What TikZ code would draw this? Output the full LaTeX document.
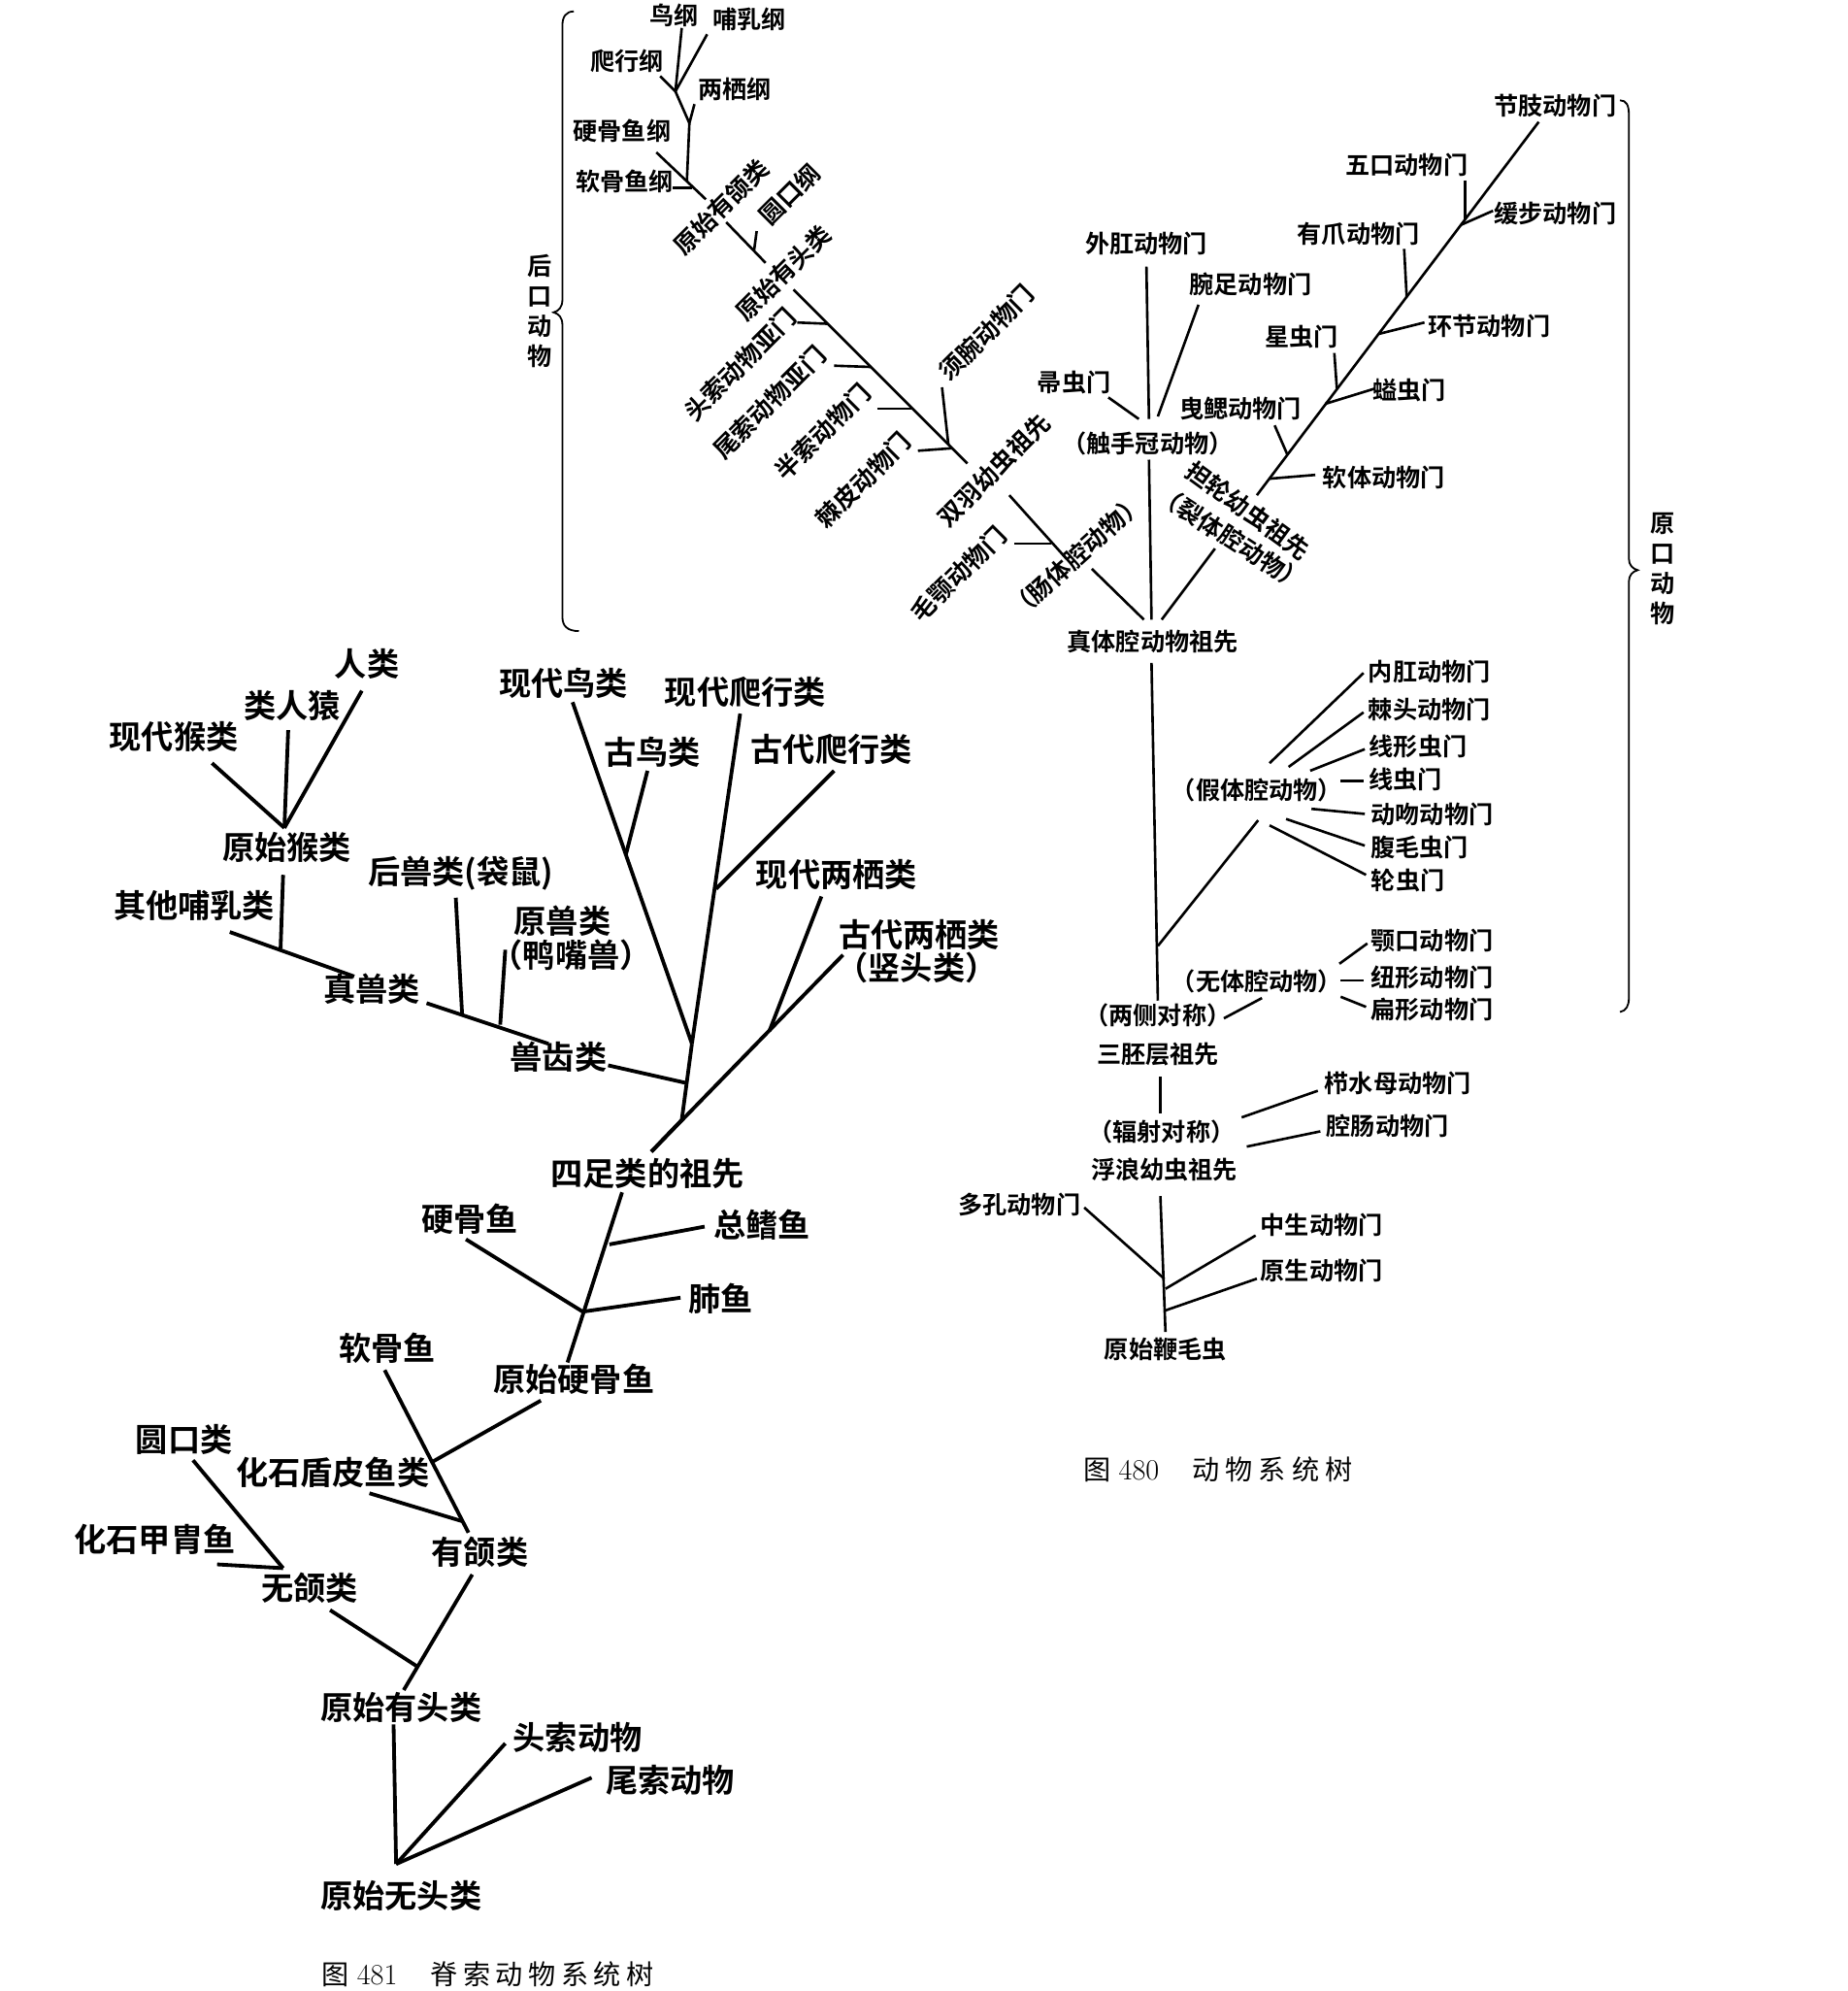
\documentclass[tikz,border=0pt]{standalone}
\usepackage{fontspec}
\newfontfamily\cjkb{Noto Sans CJK SC Bold}
\newfontfamily\cjk{Noto Sans CJK SC}
\tikzset{every picture/.style={line width=0.5pt}}
\tikzset{
  lbl/.style={font=\cjkb\fontsize{12.5}{15.4}\selectfont, inner sep=0.75pt},
  big/.style={font=\cjkb\fontsize{16.5}{19}\selectfont, inner sep=0.75pt},
  figcap/.style={font=\cjk\fontsize{14}{15}\selectfont, inner sep=0.75pt, anchor=west},
  twig/.style={line width=1.3pt},
  limb/.style={line width=1.9pt},
  bracket/.style={line width=0.9pt},
}
\newcommand{\capnum}[1]{{\rmfamily\fontsize{15}{15}\selectfont #1}}
\begin{document}
\begin{tikzpicture}[x=0.65pt,y=0.65pt,yscale=-1,xscale=1]
\useasboundingbox (0,0) rectangle (1455,1568);

%% ---------- upper left: deuterostomes ----------
% Text Node
\node[lbl] (niaogang) at (531,12) {鸟纲};
\node[lbl] (burugang) at (590,15) {哺乳纲};
\node[lbl] (paxinggang) at (494,48) {爬行纲};
\node[lbl] (liangqigang) at (579,70) {两栖纲};
\node[lbl] (yinggugang) at (490,103) {硬骨鱼纲};
\node[lbl] (ruangugang) at (492,143) {软骨鱼纲};
\node[lbl,rotate=45] (youhelei) at (568,163) {原始有颌类};
\node[lbl,rotate=45] (yuankougang) at (622,153) {圆口纲};
\node[lbl,rotate=45] (youtoulei) at (617,215) {原始有头类};
\node[lbl,rotate=45] (tousuo) at (583,287) {头索动物亚门};
\node[lbl,rotate=45] (weisuo) at (606,317) {尾索动物亚门};
\node[lbl,rotate=45] (bansuo) at (648,340) {半索动物门};
\node[lbl,rotate=45] (jipi) at (680,378) {棘皮动物门};
\node[lbl,rotate=45] (xuwan) at (777,262) {须腕动物门};
\node[lbl,rotate=45] (shuangyu) at (783,370) {双羽幼虫祖先};
\node[lbl,rotate=45] (maoe) at (755,452) {毛颚动物门};
\node[lbl,rotate=42] (changtiqiang) at (848,438) {（肠体腔动物）};
\node[lbl,align=center] (houkou) at (425,245) {后\\口\\动\\物};

\coordinate (a1) at (537,22);  \coordinate (a2) at (557,27);
\coordinate (a3) at (520,60);  \coordinate (ja) at (532,72);
\coordinate (a4) at (547,82);  \coordinate (jb) at (543,97);
\coordinate (jc) at (541,143); \coordinate (a5) at (517,120);
\coordinate (a6) at (556,157); \coordinate (a7) at (530,148);
\coordinate (a8) at (545,148);
\coordinate (b1) at (572,175); \coordinate (b2) at (603,207);
\coordinate (b3) at (596,182); \coordinate (b4) at (594,197);
\coordinate (c1) at (625,228); \coordinate (c2) at (762,365);
\coordinate (d1) at (628,254); \coordinate (d2) at (652,255);
\coordinate (d3) at (657,288); \coordinate (d4) at (686,289);
\coordinate (d5) at (691,322); \coordinate (d6) at (719,322);
\coordinate (d7) at (723,355); \coordinate (d8) at (750,353);
\coordinate (d9) at (742,305); \coordinate (d10) at (747,350);
\coordinate (e1) at (795,390); \coordinate (e2) at (840,440);
\coordinate (e3) at (799,428); \coordinate (e4) at (828,428);
\coordinate (e5) at (860,448);

%Straight Lines
\draw[twig] (a1) -- (ja);
\draw[twig] (a2) -- (ja);
\draw[twig] (a3) -- (ja) -- (jb);
\draw[twig] (a4) -- (jb);
\draw[twig] (jb) -- (jc);
\draw[twig] (a5) -- (a6);
\draw[twig] (a7) -- (a8);
\draw[twig] (b1) -- (b2);
\draw[twig] (b3) -- (b4);
\draw[twig] (c1) -- (c2);
\draw[twig] (d1) -- (d2);
\draw[twig] (d3) -- (d4);
\draw[twig] (d5) -- (d6);
\draw[twig] (d7) -- (d8);
\draw[twig] (d9) -- (d10);
\draw[twig] (e1) -- (e2);
\draw[twig] (e3) -- (e4);

%Shape: Brace
\draw[bracket] (452,9) .. controls (446,9) and (443,13) .. (443,20) -- (443,236) .. controls (443,242) and (440,245) .. (436,246) .. controls (440,247) and (443,250) .. (443,256) -- (443,486) .. controls (443,493) and (447,497) .. (456,497);

%% ---------- upper right: protostomes ----------
% Text Node
\node[lbl] (zhentiqiang) at (908,505) {真体腔动物祖先};
\node[lbl] (chushouguan) at (904,349) {（触手冠动物）};
\node[lbl] (waigang) at (903,192) {外肛动物门};
\node[lbl] (wanzu) at (985,224) {腕足动物门};
\node[lbl] (zhouchong) at (846,301) {帚虫门};
\node[lbl] (jiezhi) at (1225,83) {节肢动物门};
\node[lbl] (wukou) at (1108,130) {五口动物门};
\node[lbl] (huanbu) at (1225,168) {缓步动物门};
\node[lbl] (youzhua) at (1070,184) {有爪动物门};
\node[lbl] (huanjie) at (1173,257) {环节动物门};
\node[lbl] (xingchong) at (1025,265) {星虫门};
\node[lbl] (yichong) at (1110,307) {螠虫门};
\node[lbl] (yesai) at (977,322) {曳鳃动物门};
\node[lbl] (ruanti) at (1090,376) {软体动物门};
\node[lbl,rotate=-36] (danlun) at (983,402) {担轮幼虫祖先};
\node[lbl,rotate=-33] (lietiqiang) at (970,424) {（裂体腔动物）};
\node[lbl,align=center] (yuankou) at (1310,448) {原\\口\\动\\物};

\coordinate (f1) at (903,210);  \coordinate (f2) at (905,330);
\coordinate (f3) at (944,240);  \coordinate (f4) at (912,328);
\coordinate (f5) at (873,313);  \coordinate (f6) at (897,330);
\coordinate (g1) at (905,362);  \coordinate (g2) at (957,432);
\coordinate (z1) at (901,488);  \coordinate (z2) at (907,488);
\coordinate (z3) at (915,488);
\coordinate (p0) at (1212,96);  \coordinate (p9) at (990,390);
\coordinate (q1) at (1176,166); \coordinate (r1) at (1151,177);
\coordinate (q2) at (1154,142); \coordinate (r2) at (1154,173);
\coordinate (q3) at (1106,196); \coordinate (r3) at (1108,234);
\coordinate (q4) at (1122,254); \coordinate (r4) at (1086,263);
\coordinate (q5) at (1051,278); \coordinate (r5) at (1053,306);
\coordinate (q6) at (1083,306); \coordinate (r6) at (1044,318);
\coordinate (q7) at (1004,335); \coordinate (r7) at (1014,358);
\coordinate (q8) at (1036,374); \coordinate (r8) at (1000,377);

%Straight Lines
\draw[twig] (f1) -- (f2);
\draw[twig] (f3) -- (f4);
\draw[twig] (f5) -- (f6);
\draw[twig] (g1) -- (z2);
\draw[twig] (g2) -- (z3);
\draw[twig] (e5) -- (z1);
\draw[twig] (p0) -- (p9);
\draw[twig] (q1) -- (r1);
\draw[twig] (q2) -- (r2);
\draw[twig] (q3) -- (r3);
\draw[twig] (q4) -- (r4);
\draw[twig] (q5) -- (r5);
\draw[twig] (q6) -- (r6);
\draw[twig] (q7) -- (r7);
\draw[twig] (q8) -- (r8);

%Shape: Brace
\draw[bracket] (1276,79) .. controls (1281,79) and (1283,83) .. (1283,90) -- (1283,440) .. controls (1283,445) and (1286,448) .. (1290,449) .. controls (1286,450) and (1283,453) .. (1283,458) -- (1283,786) .. controls (1283,792) and (1281,796) .. (1276,797);

%% ---------- lower right ----------
% Text Node
\node[lbl] (jiatiqiang) at (990,622) {（假体腔动物）};
\node[lbl] (neigang) at (1126,529) {内肛动物门};
\node[lbl] (jitou) at (1126,559) {棘头动物门};
\node[lbl] (xianxing) at (1117,588) {线形虫门};
\node[lbl] (xianchong) at (1107,614) {线虫门};
\node[lbl] (dongwen) at (1128,641) {动吻动物门};
\node[lbl] (fumao) at (1118,667) {腹毛虫门};
\node[lbl] (lunchong) at (1109,693) {轮虫门};
\node[lbl] (wutiqiang) at (990,773) {（无体腔动物）};
\node[lbl] (ekou) at (1128,741) {颚口动物门};
\node[lbl] (niuxing) at (1128,770) {纽形动物门};
\node[lbl] (bianxing) at (1128,795) {扁形动物门};
\node[lbl] (liangce) at (912,800) {（两侧对称）};
\node[lbl] (sanpeiceng) at (912,830) {三胚层祖先};
\node[lbl] (zhishuimu) at (1101,853) {栉水母动物门};
\node[lbl] (qiangchang) at (1093,887) {腔肠动物门};
\node[lbl] (fushe) at (915,891) {（辐射对称）};
\node[lbl] (fulang) at (917,921) {浮浪幼虫祖先};
\node[lbl] (duokong) at (803,949) {多孔动物门};
\node[lbl] (zhongsheng) at (1041,965) {中生动物门};
\node[lbl] (yuansheng) at (1041,1001) {原生动物门};
\node[lbl] (bianmao) at (918,1063) {原始鞭毛虫};
\node[figcap] (cap480) at (852,1157) {图\hspace{4pt}\capnum{480}\hspace{17pt}动\hspace{3pt}物\hspace{3pt}系\hspace{3pt}统\hspace{3pt}树};

\coordinate (h0) at (907,522);  \coordinate (h1) at (912,788);
\coordinate (h2) at (912,745);  \coordinate (h3) at (991,646);
\coordinate (s1) at (1000,601); \coordinate (t1) at (1074,530);
\coordinate (s2) at (1015,604); \coordinate (t2) at (1074,561);
\coordinate (s3) at (1032,607); \coordinate (t3) at (1075,590);
\coordinate (s4) at (1056,615); \coordinate (t4) at (1074,615);
\coordinate (s5) at (1033,637); \coordinate (t5) at (1075,641);
\coordinate (s6) at (1013,645); \coordinate (t6) at (1075,666);
\coordinate (s7) at (1000,650); \coordinate (t7) at (1076,689);
\coordinate (u1) at (1055,759); \coordinate (v1) at (1077,743);
\coordinate (u2) at (1056,772); \coordinate (v2) at (1074,772);
\coordinate (u3) at (1056,785); \coordinate (v3) at (1076,793);
\coordinate (w1) at (964,802);  \coordinate (w2) at (994,786);
\coordinate (i1) at (914,848);  \coordinate (i2) at (914,877);
\coordinate (i3) at (978,880);  \coordinate (i4) at (1038,859);
\coordinate (i5) at (982,903);  \coordinate (i6) at (1040,891);
\coordinate (k0) at (914,942);  \coordinate (k1) at (918,1049);
\coordinate (k2) at (854,951);  \coordinate (k3) at (917,1007);
\coordinate (k4) at (989,973);  \coordinate (k5) at (918,1015);
\coordinate (k6) at (990,1007); \coordinate (k7) at (918,1032);

%Straight Lines
\draw[twig] (h0) -- (h1);
\draw[twig] (h2) -- (h3);
\foreach \n in {1,...,7} \draw[twig] (s\n) -- (t\n);
\foreach \n in {1,2,3} \draw[twig] (u\n) -- (v\n);
\draw[twig] (w1) -- (w2);
\draw[twig] (i1) -- (i2);
\draw[twig] (i3) -- (i4);
\draw[twig] (i5) -- (i6);
\draw[twig] (k0) -- (k1);
\draw[twig] (k2) -- (k3);
\draw[twig] (k4) -- (k5);
\draw[twig] (k6) -- (k7);

%% ---------- lower left: vertebrates ----------
% Text Node
\node[big] (renlei) at (289,523) {人类};
\node[big] (leirenyuan) at (230,556) {类人猿};
\node[big] (xiandaihou) at (137,580) {现代猴类};
\node[big] (yuanshihou) at (226,667) {原始猴类};
\node[big] (qitaburu) at (153,713) {其他哺乳类};
\node[big] (houshou) at (363,688) {后兽类(袋鼠)};
\node[big] (yuanshou) at (443,725) {原兽类};
\node[big] (yazuishou) at (450,752) {（鸭嘴兽）};
\node[big] (zhenshou) at (293,779) {真兽类};
\node[big] (shouchi) at (440,832) {兽齿类};
\node[big] (xiandainiao) at (444,538) {现代鸟类};
\node[big] (xiandaipaxing) at (587,545) {现代爬行类};
\node[big] (guniao) at (514,592) {古鸟类};
\node[big] (gudaipaxing) at (655,590) {古代爬行类};
\node[big] (xiandailiangqi) at (659,689) {现代两栖类};
\node[big] (gudailiangqi) at (724,736) {古代两栖类};
\node[big] (shutou) at (722,762) {（竖头类）};
\node[big] (sizu) at (510,924) {四足类的祖先};
\node[big] (yinggu) at (370,960) {硬骨鱼};
\node[big] (zongqi) at (600,965) {总鳍鱼};
\node[big] (feiyu) at (568,1023) {肺鱼};
\node[big] (yuanshiyinggu) at (452,1086) {原始硬骨鱼};
\node[big] (ruangu) at (305,1062) {软骨鱼};
\node[big] (yuankoulei) at (145,1134) {圆口类};
\node[big] (dunpi) at (262,1160) {化石盾皮鱼类};
\node[big] (jiazhou) at (122,1212) {化石甲胄鱼};
\node[big] (youhe) at (378,1222) {有颌类};
\node[big] (wuhe) at (244,1251) {无颌类};
\node[big] (youtou) at (316,1345) {原始有头类};
\node[big] (tousuodw) at (455,1368) {头索动物};
\node[big] (weisuodw) at (528,1402) {尾索动物};
\node[big] (wutou) at (316,1493) {原始无头类};
\node[figcap] (cap481) at (252,1555) {图\hspace{4pt}\capnum{481}\hspace{17pt}脊\hspace{2.7pt}索\hspace{2.7pt}动\hspace{2.7pt}物\hspace{2.7pt}系\hspace{2.7pt}统\hspace{2.7pt}树};

\coordinate (m1) at (167,601);  \coordinate (m2) at (227,575);
\coordinate (m3) at (285,544);  \coordinate (mj) at (224,652);
\coordinate (m4) at (223,689);  \coordinate (m5) at (221,747);
\coordinate (m6) at (181,734);  \coordinate (m7) at (279,769);
\coordinate (m8) at (336,790);  \coordinate (m9) at (432,822);
\coordinate (n1) at (359,707);  \coordinate (n2) at (364,799);
\coordinate (n3) at (398,748);  \coordinate (n4) at (394,807);
\coordinate (n5) at (479,839);  \coordinate (n6) at (541,853);
\coordinate (o0) at (513,907);  \coordinate (o1) at (537,882);
\coordinate (o2) at (545,822);
\coordinate (o3) at (451,553);  \coordinate (o4) at (510,607);
\coordinate (o5) at (493,673);  \coordinate (o6) at (583,562);
\coordinate (o7) at (657,607);  \coordinate (o8) at (564,700);
\coordinate (o9) at (664,752);  \coordinate (o10) at (647,706);
\coordinate (o11) at (606,812);
\coordinate (x0) at (490,939);  \coordinate (x1) at (480,980);
\coordinate (x2) at (459,1033); \coordinate (x3) at (447,1073);
\coordinate (x4) at (555,966);  \coordinate (x5) at (536,1022);
\coordinate (x6) at (367,976);
\coordinate (y1) at (426,1103); \coordinate (y2) at (341,1151);
\coordinate (y3) at (303,1079); \coordinate (y4) at (369,1207);
\coordinate (y5) at (291,1176); \coordinate (y6) at (364,1198);
\coordinate (y7) at (152,1150); \coordinate (y8) at (223,1235);
\coordinate (y9) at (171,1232);
\coordinate (y10) at (260,1268); \coordinate (y11) at (328,1312);
\coordinate (y12) at (372,1240); \coordinate (y13) at (318,1331);
\coordinate (z4) at (310,1358); \coordinate (z5) at (312,1468);
\coordinate (z6) at (398,1373); \coordinate (z7) at (466,1400);

%Straight Lines
\draw[limb] (m1) -- (mj);
\draw[limb] (m2) -- (mj);
\draw[limb] (m3) -- (mj);
\draw[limb] (m4) -- (m5);
\draw[limb] (m6) -- (m7);
\draw[limb] (m8) -- (m9);
\draw[limb] (n1) -- (n2);
\draw[limb] (n3) -- (n4);
\draw[limb] (n5) -- (n6);
\draw[limb] (o0) -- (o1) -- (o2);
\draw[limb] (o3) -- (o2);
\draw[limb] (o4) -- (o5);
\draw[limb] (o6) -- (o2);
\draw[limb] (o7) -- (o8);
\draw[limb] (o0) -- (o9);
\draw[limb] (o10) -- (o11);
\draw[limb] (x0) -- (x3);
\draw[limb] (x4) -- (x1);
\draw[limb] (x5) -- (x2);
\draw[limb] (x6) -- (x2);
\draw[limb] (y1) -- (y2);
\draw[limb] (y3) -- (y4);
\draw[limb] (y5) -- (y6);
\draw[limb] (y7) -- (y8);
\draw[limb] (y9) -- (y8);
\draw[limb] (y10) -- (y11);
\draw[limb] (y12) -- (y13);
\draw[limb] (z4) -- (z5);
\draw[limb] (z6) -- (z5);
\draw[limb] (z7) -- (z5);

\end{tikzpicture}
\end{document}
